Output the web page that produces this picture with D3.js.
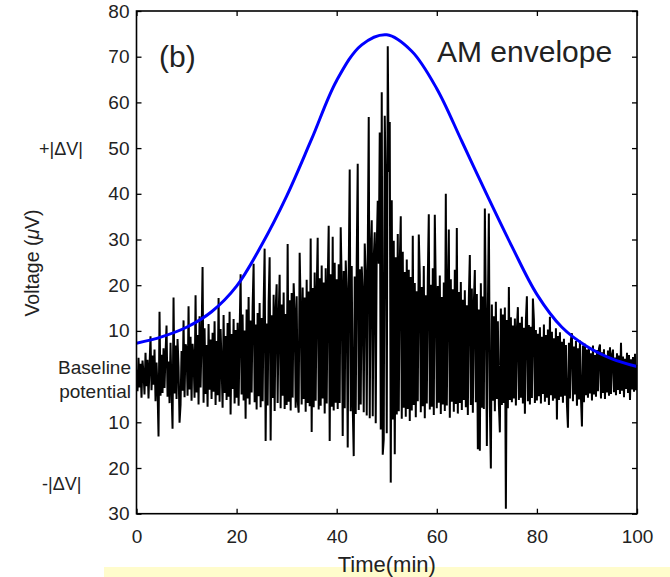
<!DOCTYPE html>
<html lang="en">
<head>
	<meta charset="utf-8">
	<title>AM envelope</title>
	<script src="https://d3js.org/d3.v7.min.js" charset="utf-8"></script>
	<style>
		body { margin: 0; background: #fff; }
		text { font-family: "Liberation Sans", Arial, sans-serif; fill: #222; }
	</style>
</head>
<body>
	<script>
		// sampling of the trace: one value every 0.2 min, 0 .. 100 min
		var dt = 0.2;

		// recorded voltage (uV), rows of 25 values = 5 minutes each
		var voltage = [
			1.5, -3.2, 4.1, -2.4, 2.8, -4.6, 3.5, 0.8, -3.9, 5.2, -2.1, 3.7, -4.8, 2.2, 8.8, -3.0, 4.6, -1.8, 5.9, -5.4, 3.1, -2.7, -13.1, 14.2, -4.2,
			4.8, -3.6, 6.2, -2.5, 5.1, 11.2, -4.4, 3.3, -5.8, 7.4, -2.9, -11.4, 17.3, -3.7, 6.8, -4.9, 8.2, 2.1, -10.1, -6.2, 5.6, -3.1, 12.3, -4.5, 7.1,
			6.3, -4.2, 15.4, -2.8, 8.7, -5.3, 7.2, 3.9, -4.6, 17.8, -3.5, 9.1, -6.1, 13.2, -2.4, 8.4, 24.0, -5.7, 10.6, -3.8, 6.9, -6.6, 11.5, -2.9, 8.1,
			-4.9, 9.6, -3.3, 12.1, -6.2, 7.8, -4.1, 17.2, -5.5, 10.4, 2.6, -6.8, 13.5, -3.6, 8.9, -5.1, 11.7, -4.4, 14.2, -8.3, 9.3, -2.7, 12.6, -5.9, 10.2,
			-4.6, 11.8, -6.4, 9.2, 22.4, -3.9, 13.6, -5.2, 10.1, -9.2, 14.7, -4.8, 17.4, -6.1, 12.3, -3.5, 15.2, 24.7, -5.6, 11.4, -7.2, 13.9, -4.3, 16.1, -6.7,
			12.8, -5.4, 15.3, 28.0, -14.1, 11.6, -6.3, 16.2, 26.1, -14.0, 13.4, -4.7, 17.9, -7.5, 14.5, 20.2, -5.8, 12.9, 22.3, -6.9, 15.8, -4.2, 18.4, -7.1, 13.7,
			-6.2, 29.0, -5.5, 16.7, -7.4, 18.3, -4.6, 20.4, 14.1, -6.8, 17.6, -5.2, -7.9, 27.1, 15.2, -6.1, 19.5, -4.9, 17.3, -7.7, 21.2, -5.8, 18.6, -6.5, 30.2,
			-12.1, 19.4, -6.7, 22.8, -5.3, 18.1, 30.4, -7.2, 21.5, -6.4, 24.3, -4.8, 20.6, -8.1, 23.7, -5.9, 19.9, 33.0, -14.1, 22.4, -6.6, 30.6, -7.4, 24.9, -5.7,
			21.3, -7.1, 24.6, -5.8, 32.7, 20.2, -13.0, 23.1, -6.9, 25.4, 18.7, -15.5, 22.8, 45.3, -7.6, 24.2, -6.3, -17.4, 21.9, -8.2, 25.7, 46.6, -7.3, 23.5, -6.1,
			24.1, 18.2, -7.8, 29.1, 22.6, -8.5, 26.3, 56.8, -9.1, 27.4, 34.2, -8.7, 25.9, 31.6, -10.2, 28.3, 38.5, 24.7, 53.4, -11.6, 62.2, -17.1, -13.7, 57.1, 41.3,
			-12.4, 72.3, 44.8, 55.7, -23.2, 38.6, -9.4, 29.7, -17.0, 26.1, -8.3, 31.2, -7.6, 24.8, 35.1, -9.2, 27.3, -6.8, 22.9, -8.8, 25.6, -7.1, 23.4, -9.7, 21.8,
			-7.4, 30.8, -6.2, 20.5, -8.9, 18.7, -5.4, 31.1, 22.3, -7.8, 19.6, -6.5, 24.2, -9.1, 17.8, -5.9, 21.4, 35.5, -7.2, 20.1, -6.6, 23.7, -8.4, 35.4, 18.9,
			-6.9, 19.8, -5.7, 22.1, -8.2, 17.4, -6.1, 20.6, -7.5, 40.0, -6.3, 18.2, 32.2, -9.0, 21.3, -5.5, 19.1, -7.7, 23.4, -6.0, 32.5, -8.1, 18.5, -5.8, 20.7,
			-7.3, 16.8, -5.1, 18.9, -6.7, 15.6, -8.4, 17.2, 26.6, -6.2, 19.3, -7.9, 16.1, 23.3, -5.6, 18.1, -15.9, 14.7, -16.2, 20.4, -6.8, 17.5, -7.1, 36.8, 15.2,
			-15.2, 14.3, 35.7, -6.4, -20.1, 15.8, -5.3, 13.2, -7.6, 16.4, -4.9, 12.1, -6.0, -12.2, 14.9, -6.2, 13.6, -5.8, 15.1, -28.9, 12.4, -6.9, 19.6, -5.1, 13.0,
			-5.6, 11.2, -4.8, 12.7, -6.3, 10.4, 15.2, -5.1, 11.8, -4.6, 13.1, -5.9, 10.7, -8.1, 12.2, 17.6, -5.4, 11.3, -6.1, 10.9, -4.7, 17.1, 12.5, -5.8, 10.2,
			-5.2, 9.4, -4.3, 10.8, -5.9, 8.7, -3.8, 11.4, -5.5, 9.1, -4.6, 10.3, -6.2, 13.1, -4.1, 9.8, -5.3, 8.4, -4.8, 10.6, -9.4, 8.9, -5.1, 9.7, -4.4,
			7.6, -5.7, 8.3, -4.2, 6.9, -6.1, -11.2, 7.4, -4.8, 8.1, 9.5, -5.4, 6.6, -3.9, 7.8, -6.4, 6.2, -5.0, 7.9, -4.5, -10.9, 6.8, -5.6, 7.2, -4.1,
			5.9, -4.6, 6.3, -3.7, 5.1, -5.2, 6.8, -3.9, 4.7, -4.4, 5.8, -3.2, 6.1, 7.0, -4.8, 5.3, -3.6, 6.0, -4.9, 4.6, -3.5, 5.7, -4.2, 6.4, -3.8,
			4.8, 5.9, -3.4, 4.2, -4.1, 5.1, -2.9, 4.6, -3.8, 7.4, -3.1, 4.4, -4.5, 3.9, -2.7, 5.2, -3.6, 4.7, -5.1, 3.8, -2.8, 4.3, -3.3, 5.0, -3.0,
			2.1
		];

		// AM envelope, read every 5 min
		var envTime = [0, 5, 10, 15, 20, 25, 30, 35, 40, 45, 50, 55, 60, 65, 70, 75, 80, 85, 90, 95, 100];
		var envValue = [7.3, 8.7, 10.8, 14.2, 19.8, 28.8, 39.5, 52, 64.8, 72.6, 74.8, 71.2, 63, 51.5, 39.8, 28.5, 18, 10.8, 6.6, 3.9, 2.2];

		var xTicks = [0, 20, 40, 60, 80, 100];
		var yTicks = [-30, -20, -10, 0, 10, 20, 30, 40, 50, 60, 70, 80];

		var w = 670, h = 577;
		// plot box edges (note: "top" is reserved on window, so use other names)
		var boxL = 136.5, boxR = 637, boxT = 11, boxB = 513.7;

		var svg = d3.select("body").append("svg")
			.attr("width", w)
			.attr("height", h);

		// pale yellow strip under the figure
		svg.append("rect")
			.attr("x", 104).attr("y", 567)
			.attr("width", w - 104).attr("height", h - 567)
			.attr("fill", "#fffccc");

		var x = d3.scaleLinear().domain([0, 100]).range([boxL, boxR]);
		var y = d3.scaleLinear().domain([-30, 80]).range([boxB, boxT]);

		svg.append("clipPath").attr("id", "plot")
			.append("rect")
			.attr("x", boxL).attr("y", boxT)
			.attr("width", boxR - boxL).attr("height", boxB - boxT);

		// noisy trace
		var trace = d3.line()
			.x(function(d, i) { return x(i * dt); })
			.y(function(d) { return y(d); });

		svg.append("path")
			.datum(voltage)
			.attr("clip-path", "url(#plot)")
			.attr("fill", "none")
			.attr("stroke", "#000")
			.attr("stroke-width", 2)
			.attr("d", trace);

		// envelope, smooth curve through the read points
		var env = d3.line()
			.x(function(d, i) { return x(envTime[i]); })
			.y(function(d) { return y(d); })
			.curve(d3.curveCatmullRom.alpha(0.5));

		svg.append("path")
			.datum(envValue)
			.attr("fill", "none")
			.attr("stroke", "#0000ff")
			.attr("stroke-width", 3)
			.attr("d", env);

		// axes, MATLAB style: ticks point inward on all four sides
		var bottomAxis = d3.axisBottom(x).tickValues(xTicks).tickSizeInner(-5).tickSizeOuter(0).tickPadding(16);
		var topAxis = d3.axisTop(x).tickValues(xTicks).tickSizeInner(-5).tickSizeOuter(0).tickFormat("");
		var leftAxis = d3.axisLeft(y).tickValues(yTicks).tickSizeInner(-5).tickSizeOuter(0).tickPadding(7)
			.tickFormat(function(d) { return d === 0 ? "" : Math.abs(d); });
		var rightAxis = d3.axisRight(y).tickValues(yTicks).tickSizeInner(-5).tickSizeOuter(0).tickFormat("");

		var gb = svg.append("g").attr("transform", "translate(0," + boxB + ")").call(bottomAxis);
		var gt = svg.append("g").attr("transform", "translate(0," + boxT + ")").call(topAxis);
		var gl = svg.append("g").attr("transform", "translate(" + boxL + ",0)").call(leftAxis);
		var gr = svg.append("g").attr("transform", "translate(" + boxR + ",0)").call(rightAxis);

		[gb, gt, gl, gr].forEach(function(g) {
			g.select(".domain").remove();
			g.selectAll(".tick line").attr("stroke", "#000").attr("stroke-width", 1.3);
			g.selectAll(".tick text")
				.style("font-family", "'Liberation Sans', Arial, sans-serif")
				.style("font-size", "19px")
				.attr("fill", "#222");
		});

		svg.append("rect")
			.attr("x", boxL).attr("y", boxT)
			.attr("width", boxR - boxL).attr("height", boxB - boxT)
			.attr("fill", "none")
			.attr("stroke", "#000")
			.attr("stroke-width", 1.6);

		// labels
		svg.append("text")
			.attr("x", (boxL + boxR) / 2).attr("y", 572)
			.attr("text-anchor", "middle")
			.style("font-size", "22px")
			.text("Time(min)");

		var ylab = svg.append("text")
			.attr("transform", "translate(39,263) rotate(-90)")
			.attr("text-anchor", "middle")
			.style("font-size", "19.5px");
		ylab.append("tspan").text("Voltage (");
		ylab.append("tspan").style("font-style", "italic").text("\u03bc");
		ylab.append("tspan").text("V)");

		svg.append("text")
			.attr("x", 131).attr("y", y(0) - 3)
			.attr("text-anchor", "end")
			.style("font-size", "19px")
			.text("Baseline");

		svg.append("text")
			.attr("x", 131).attr("y", y(0) + 21)
			.attr("text-anchor", "end")
			.style("font-size", "19px")
			.text("potential");

		svg.append("text")
			.attr("x", 39).attr("y", 155)
			.style("font-size", "18px")
			.text("+|\u0394V|");

		svg.append("text")
			.attr("x", 42).attr("y", 490)
			.style("font-size", "18px")
			.text("-|\u0394V|");

		svg.append("text")
			.attr("x", 159).attr("y", 67)
			.style("font-size", "30px")
			.attr("fill", "#000")
			.text("(b)");

		svg.append("text")
			.attr("x", 437).attr("y", 62)
			.style("font-size", "30px")
			.attr("fill", "#000")
			.text("AM envelope");
	</script>
</body>
</html>
